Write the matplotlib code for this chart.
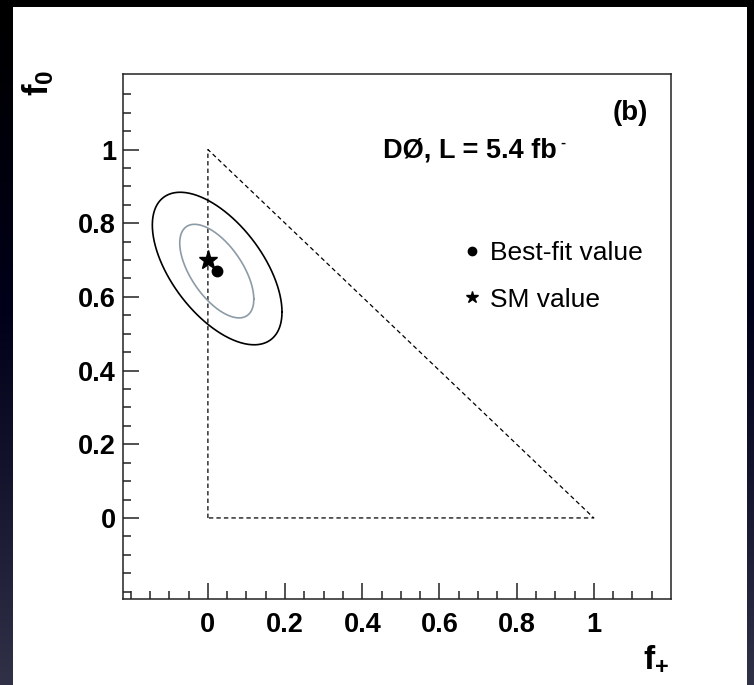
import numpy as np
import matplotlib
matplotlib.use('Agg')
import matplotlib.pyplot as plt
from matplotlib.lines import Line2D
from matplotlib.patches import Rectangle
from matplotlib.ticker import FixedLocator
from matplotlib.colors import LinearSegmentedColormap

plt.rcParams['font.family'] = ['Liberation Sans', 'DejaVu Sans']
plt.rcParams['mathtext.fontset'] = 'custom'
plt.rcParams['mathtext.rm'] = 'Liberation Sans:bold'
plt.rcParams['mathtext.it'] = 'Liberation Sans:bold'
plt.rcParams['mathtext.bf'] = 'Liberation Sans:bold'

# ---------------- data ----------------
best_fit_fplus = [0.023]
best_fit_f0 = [0.669]
sm_fplus = [0.0]
sm_f0 = [0.70]

triangle_fplus = [0.0, 0.0, 1.0, 0.0]
triangle_f0 = [0.0, 1.0, 0.0, 0.0]

# contours (68% inner grey, 95% outer black): centre, half extents, correlation
outer_center = (0.024, 0.677)
outer_half = (0.168, 0.207)
outer_corr = -0.57
inner_center = (0.023, 0.670)
inner_half = (0.096, 0.127)
inner_corr = -0.60

x_ticks = [0, 0.2, 0.4, 0.6, 0.8, 1]
x_tick_labels = ['0', '0.2', '0.4', '0.6', '0.8', '1']
y_ticks = [0, 0.2, 0.4, 0.6, 0.8, 1]
y_tick_labels = ['0', '0.2', '0.4', '0.6', '0.8', '1']
minor_ticks = np.round(np.arange(-0.20, 1.20, 0.05), 2)

legend_labels = ['Best-fit value', 'SM value']
# --------------------------------------

W, H = 754, 685
fig = plt.figure(figsize=(W / 100, H / 100), dpi=100)

# background gradient + white panel
bg = fig.add_axes([0, 0, 1, 1], zorder=-10)
cmap = LinearSegmentedColormap.from_list(
    'bg', [(0.0, (0, 0, 0)), (0.12, (0, 0, 0.02)), (0.45, (0.0, 0.0, 0.10)),
           (0.70, (0.08, 0.08, 0.18)), (1.0, (0.19, 0.19, 0.28))])
grad = np.linspace(0, 1, 256).reshape(-1, 1)
bg.imshow(grad, aspect='auto', cmap=cmap, extent=[0, 1, 0, 1], origin='upper')
bg.add_patch(Rectangle((13 / W, 0), (747 - 13) / W, (H - 7) / H,
                       transform=bg.transAxes, facecolor='white', edgecolor='none'))
bg.set_xlim(0, 1)
bg.set_ylim(0, 1)
bg.axis('off')

left, right, top, bottom = 123, 671, 74, 599
ax = fig.add_axes([left / W, 1 - bottom / H, (right - left) / W, (bottom - top) / H])
ax.set_facecolor('white')
ax.set_xlim(-0.22, 1.2)
ax.set_ylim(-0.22, 1.205)

# triangle
ax.plot(triangle_fplus, triangle_f0, color='black', lw=0.9, dashes=(3.5, 2.5))


def contour(center, half, corr):
    t = np.linspace(0, 2 * np.pi, 400)
    xs = center[0] + half[0] * np.cos(t)
    ys = center[1] + half[1] * (corr * np.cos(t) + np.sqrt(1 - corr ** 2) * np.sin(t))
    return xs, ys


xo, yo = contour(outer_center, outer_half, outer_corr)
xi, yi = contour(inner_center, inner_half, inner_corr)
ax.plot(xo, yo, color='black', lw=1.2)
ax.plot(xi, yi, color='#8d9ba6', lw=1.2)

ax.plot(best_fit_fplus, best_fit_f0, 'o', color='black', ms=7.5)
ax.plot(sm_fplus, sm_f0, '*', color='black', ms=14)

# axes styling
for s in ['top', 'right', 'left', 'bottom']:
    ax.spines[s].set_linewidth(1.1)
    ax.spines[s].set_color('#222222')
ax.set_xticks(x_ticks)
ax.set_xticklabels(x_tick_labels)
ax.set_yticks(y_ticks)
ax.set_yticklabels(y_tick_labels)
ax.xaxis.set_minor_locator(FixedLocator(minor_ticks))
ax.yaxis.set_minor_locator(FixedLocator(minor_ticks))
ax.tick_params(which='both', direction='in', top=False, right=False, width=1.1, color='#222222')
ax.tick_params(which='major', length=11.5, labelsize=19.5)
ax.tick_params(which='minor', length=5.8)
ax.tick_params(axis='x', which='major', pad=9)
ax.tick_params(axis='y', which='major', pad=5)
for lab in ax.get_xticklabels() + ax.get_yticklabels():
    lab.set_fontweight('bold')


def axfrac(px, py):
    return (px - left) / (right - left), (bottom - py) / (bottom - top)


# axis titles
ax.text(*axfrac(656, 659), r'$f_{+}$',
        transform=ax.transAxes, ha='center', va='center', fontsize=24)
ax.text(*axfrac(38, 83), r'$f_{0}$',
        transform=ax.transAxes, ha='center', va='center', fontsize=25, rotation=90)

# annotations
ax.text(0.925, 0.926, '(b)', transform=ax.transAxes, ha='center', va='center',
        fontsize=20, fontweight='bold')
ax.text(*axfrac(383, 150), 'DØ, L = 5.4 fb', transform=ax.transAxes,
        ha='left', va='center', fontsize=19.5, fontweight='bold')
ax.text(*axfrac(560, 143), '-', transform=ax.transAxes,
        ha='left', va='center', fontsize=11, fontweight='bold')

handles = [Line2D([], [], ls='none', marker='o', color='black', ms=6),
           Line2D([], [], ls='none', marker='*', color='black', ms=9)]
ax.legend(handles, legend_labels, loc='upper left',
          bbox_to_anchor=axfrac(464, 241),
          frameon=False, fontsize=19, handlelength=0.6, handletextpad=0.4,
          labelspacing=0.86, borderpad=0, borderaxespad=0)

fig.savefig('out.png', dpi=100)
